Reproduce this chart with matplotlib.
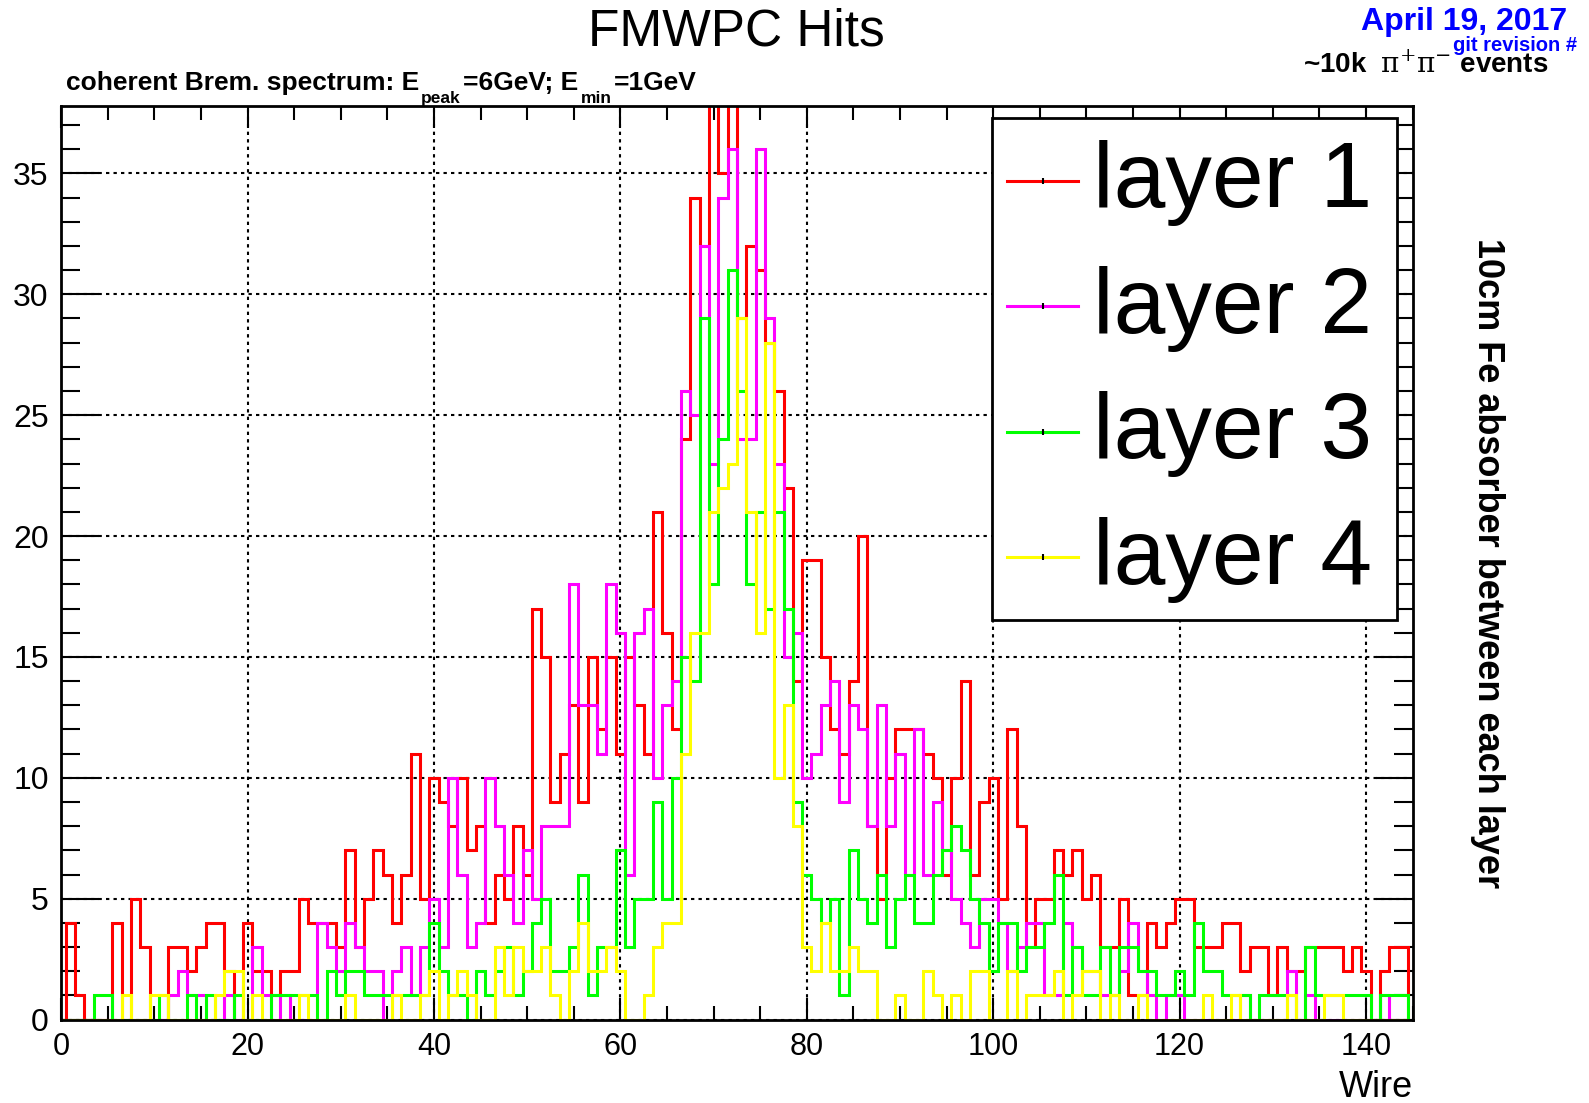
import numpy as np
import matplotlib.pyplot as plt
from matplotlib.patches import Rectangle
from matplotlib.lines import Line2D

plt.rcParams['font.family'] = ['Liberation Sans', 'DejaVu Sans']
plt.rcParams['mathtext.fontset'] = 'custom'
plt.rcParams['mathtext.rm'] = 'DejaVu Serif'
plt.rcParams['mathtext.it'] = 'DejaVu Serif:italic'
plt.rcParams['mathtext.bf'] = 'Liberation Sans:bold'

# hits per wire (wire 0 .. 144)
layer1 = [0, 4, 1, 0, 0, 0, 4, 0, 5, 3,
          0, 0, 3, 3, 2, 3, 4, 4, 2, 0,
          4, 2, 2, 1, 2, 2, 5, 4, 4, 4,
          3, 7, 3, 5, 7, 6, 4, 6, 11, 5,
          10, 9, 8, 10, 7, 8, 4, 6, 5, 8,
          6, 17, 15, 9, 11, 13, 9, 15, 12, 15,
          11, 15, 13, 11, 21, 16, 12, 24, 34, 32,
          40, 35, 41, 29, 32, 31, 28, 26, 22, 14,
          19, 19, 15, 12, 11, 14, 20, 8, 5, 10,
          12, 12, 12, 11, 10, 6, 10, 14, 6, 9,
          10, 5, 12, 8, 3, 5, 5, 7, 6, 7,
          5, 6, 3, 3, 5, 1, 1, 4, 3, 4,
          5, 5, 3, 3, 3, 4, 4, 2, 3, 3,
          1, 3, 2, 2, 3, 3, 3, 3, 2, 3,
          2, 0, 2, 3, 3]
layer2 = [0, 0, 0, 0, 0, 0, 0, 0, 0, 0,
          0, 0, 1, 2, 1, 1, 0, 0, 1, 0,
          0, 3, 1, 0, 1, 0, 0, 0, 4, 3,
          2, 4, 3, 2, 2, 0, 2, 3, 1, 3,
          5, 3, 10, 6, 3, 4, 10, 8, 6, 4,
          7, 5, 8, 8, 8, 18, 13, 13, 11, 18,
          16, 6, 16, 17, 10, 13, 14, 26, 25, 32,
          23, 34, 36, 24, 24, 36, 29, 23, 15, 16,
          10, 11, 13, 14, 9, 13, 12, 8, 13, 8,
          11, 6, 12, 6, 9, 7, 5, 4, 3, 5,
          5, 4, 2, 3, 4, 4, 1, 1, 4, 3,
          2, 2, 1, 1, 2, 4, 2, 1, 0, 1,
          1, 0, 0, 0, 0, 0, 0, 1, 0, 0,
          0, 0, 2, 0, 1, 0, 0, 0, 0, 0,
          0, 0, 1, 0, 0]
layer3 = [0, 0, 0, 0, 1, 1, 0, 0, 0, 0,
          0, 1, 0, 0, 1, 0, 1, 0, 0, 1,
          0, 0, 0, 1, 1, 1, 1, 1, 0, 2,
          1, 2, 2, 1, 1, 1, 1, 1, 1, 1,
          4, 2, 1, 1, 0, 2, 1, 2, 3, 1,
          2, 4, 5, 2, 2, 3, 6, 1, 3, 3,
          7, 3, 5, 5, 9, 5, 10, 15, 14, 29,
          18, 24, 31, 26, 18, 21, 17, 21, 17, 9,
          6, 5, 4, 5, 1, 7, 5, 4, 6, 3,
          5, 6, 4, 4, 6, 7, 8, 7, 5, 4,
          2, 4, 4, 2, 3, 3, 4, 6, 1, 3,
          1, 1, 3, 1, 3, 3, 2, 2, 1, 1,
          2, 1, 4, 2, 2, 1, 1, 1, 0, 1,
          1, 1, 1, 0, 3, 1, 1, 1, 1, 1,
          1, 0, 1, 1, 1]
layer4 = [0, 0, 0, 0, 0, 0, 0, 1, 0, 0,
          1, 1, 0, 0, 0, 0, 0, 1, 2, 2,
          0, 1, 0, 0, 0, 0, 1, 0, 0, 0,
          0, 1, 0, 0, 0, 0, 1, 0, 0, 1,
          2, 0, 1, 2, 1, 0, 0, 3, 1, 3,
          2, 2, 3, 1, 0, 2, 4, 2, 2, 3,
          2, 0, 0, 1, 3, 4, 4, 11, 16, 16,
          21, 22, 23, 29, 21, 16, 28, 10, 13, 8,
          3, 2, 4, 2, 2, 3, 2, 2, 0, 0,
          1, 0, 0, 2, 1, 0, 1, 0, 2, 2,
          0, 0, 2, 0, 1, 1, 1, 2, 0, 1,
          2, 2, 0, 1, 0, 0, 1, 0, 0, 0,
          0, 0, 0, 1, 0, 0, 1, 0, 0, 0,
          0, 0, 1, 0, 0, 0, 1, 1, 0, 0,
          0, 0, 0, 0, 0]

labels = ['layer 1', 'layer 2', 'layer 3', 'layer 4']
colors = ['#ff0000', '#ff00ff', '#00ff00', '#ffff00']

wires = np.arange(len(layer1))
edges = np.append(wires - 0.5, wires[-1] + 0.5)

fig = plt.figure(figsize=(15.89, 11.03), dpi=100)
ax = fig.add_axes([0.0385, 0.0756, 0.8505, 0.8286])

for vals, c in zip([layer1, layer2, layer3, layer4], colors):
    ax.stairs(vals, edges, baseline=0, color=c, lw=2.2, zorder=3)

ax.set_xlim(0, 145)
ax.set_ylim(0, 37.8)
ax.set_xticks(np.arange(0, 141, 20))
ax.set_xticks(np.arange(0, 146, 5), minor=True)
ax.set_yticks(np.arange(0, 36, 5))
ax.set_yticks(np.arange(0, 38, 1), minor=True)
ax.grid(True, which='major', color='black', lw=1.5, linestyle=(0, (1.6, 2.0)), zorder=1)

ax.tick_params(axis='both', which='both', direction='in', top=True, right=True,
               width=1.5, colors='black')
ax.tick_params(axis='y', which='major', length=27, pad=9, labelsize=23)
ax.tick_params(axis='y', which='minor', length=14)
ax.tick_params(axis='x', which='major', length=16, pad=9, labelsize=22)
ax.tick_params(axis='x', which='minor', length=10)
for s in ax.spines.values():
    s.set_linewidth(2)
    s.set_zorder(6)

fig.text(0.8890, 0.0050, 'Wire', ha='right', va='baseline', fontsize=26)

# legend box (ROOT style)
lx0, ly0, lw_, lh = 0.6887, 0.437, 0.300, 0.5497
ax.add_patch(Rectangle((lx0, ly0), lw_, lh, transform=ax.transAxes, facecolor='white',
                       edgecolor='black', lw=2, zorder=7))
for i, (lab, c) in enumerate(zip(labels, colors)):
    yc = ly0 + lh - (i + 0.5) * lh / 4
    ax.add_line(Line2D([0.6999, 0.7524], [yc, yc], transform=ax.transAxes, color=c, lw=2.2, zorder=8))
    ax.add_line(Line2D([0.7262], [yc], transform=ax.transAxes, color='black', marker='|',
                       markersize=4, mew=1.5, zorder=9))
    ax.text(0.7637, yc - 0.029, lab, transform=ax.transAxes, fontsize=67,
            ha='left', va='baseline', zorder=9)

# titles and labels around the frame
fig.text(0.4636, 0.9583, 'FMWPC Hits', ha='center', va='baseline', fontsize=37)

# subtitle with ROOT-like low subscripts, built piece by piece
main_kw = dict(fontsize=19, fontweight='bold')
sub_kw = dict(fontsize=12.5, fontweight='bold')
t0 = fig.text(0.0415, 0.9141, 'coherent Brem. spectrum: E', ha='left', va='bottom', **main_kw)
s1 = ax.annotate('peak', xy=(1, 0), xycoords=t0, xytext=(1.5, -6), textcoords='offset points',
                 ha='left', va='baseline', annotation_clip=False, **sub_kw)
t1 = ax.annotate('=6GeV; E', xy=(1, 0), xycoords=(s1, t0), xytext=(1.5, 0), textcoords='offset points',
                 ha='left', va='bottom', annotation_clip=False, **main_kw)
s2 = ax.annotate('min', xy=(1, 0), xycoords=t1, xytext=(1.5, -6), textcoords='offset points',
                 ha='left', va='baseline', annotation_clip=False, **sub_kw)
ax.annotate('=1GeV', xy=(1, 0), xycoords=(s2, t0), xytext=(1.5, 0), textcoords='offset points',
            ha='left', va='bottom', annotation_clip=False, **main_kw)

fig.text(0.986, 0.9725, 'April 19, 2017', ha='right', va='baseline', fontsize=23,
         fontweight='bold', color='#0000ff')
fig.text(0.9925, 0.9542, 'git revision #', ha='right', va='baseline', fontsize=14.5,
         fontweight='bold', color='#0000ff')
fig.text(0.9742, 0.9341, r'~10k  $\mathrm{\pi}^{+}\mathrm{\pi}^{-}$ events', ha='right', va='baseline',
         fontsize=20, fontweight='bold')
fig.text(0.9364, 0.4896, '10cm Fe absorber between each layer', rotation=270, ha='center',
         va='center', fontsize=26, fontweight='bold')

fig.savefig('out.png', dpi=100)
